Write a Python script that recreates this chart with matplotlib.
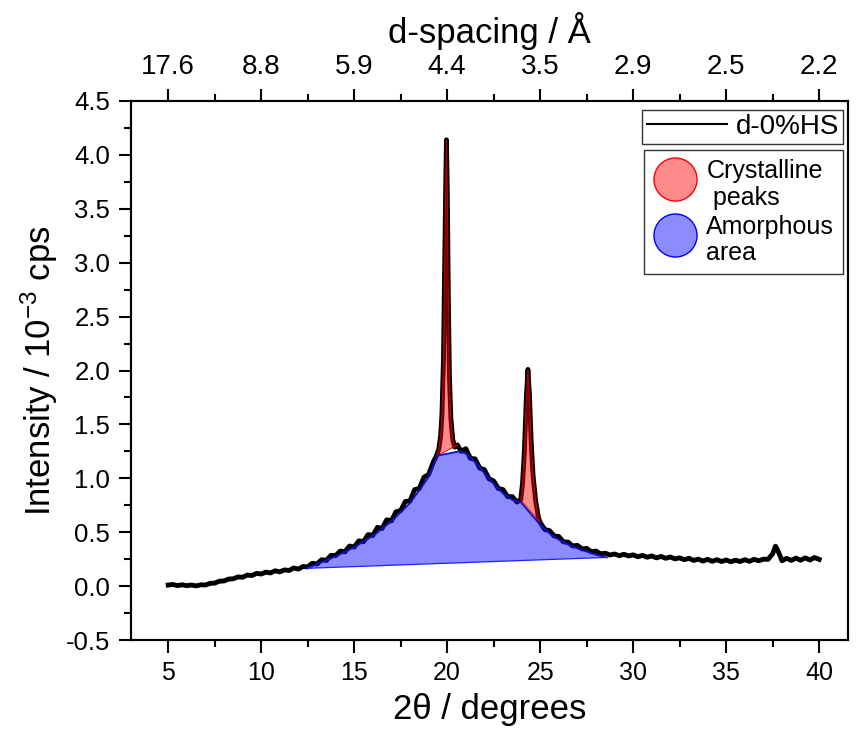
import matplotlib
matplotlib.use("Agg")
import matplotlib.pyplot as plt
from matplotlib.lines import Line2D
import numpy as np

plt.rcParams['font.family'] = ['Liberation Sans', 'DejaVu Sans']
plt.rcParams['mathtext.fontset'] = 'custom'
plt.rcParams['mathtext.rm'] = 'Liberation Sans'
plt.rcParams['mathtext.it'] = 'Liberation Sans:italic'

# ---------------- data ----------------
two_theta = [
    5.00, 5.25, 5.50, 5.75, 6.00, 6.25, 6.50, 6.75, 7.00, 7.25, 7.50, 7.75,
    8.00, 8.25, 8.50, 8.75, 9.00, 9.25, 9.50, 9.75, 10.00, 10.25, 10.50, 10.75,
    11.00, 11.25, 11.50, 11.75, 12.00, 12.25, 12.50, 12.75, 13.00, 13.25, 13.50,
    13.75, 14.00, 14.25, 14.50, 14.75, 15.00, 15.25, 15.50, 15.75, 16.00, 16.25,
    16.50, 16.75, 17.00, 17.25, 17.50, 17.75, 18.00, 18.25, 18.50, 18.75, 19.00,
    19.25, 19.40, 19.55, 19.65, 19.72, 19.80, 19.86, 19.92, 19.96, 20.01, 20.06,
    20.12, 20.20, 20.30, 20.40, 20.55, 20.75, 21.00, 21.25, 21.50, 21.75, 22.00,
    22.25, 22.50, 22.75, 23.00, 23.25, 23.50, 23.75, 23.95, 24.05, 24.15, 24.25,
    24.34, 24.42, 24.52, 24.62, 24.75, 24.90, 25.00, 25.25, 25.50, 25.75, 26.00,
    26.25, 26.50, 26.75, 27.00, 27.25, 27.50, 27.75, 28.00, 28.25, 28.50, 28.75,
    29.00, 29.25, 29.50, 29.75, 30.00, 30.25, 30.50, 30.75, 31.00, 31.25, 31.50,
    31.75, 32.00, 32.25, 32.50, 32.75, 33.00, 33.25, 33.50, 33.75, 34.00, 34.25,
    34.50, 34.75, 35.00, 35.25, 35.50, 35.75, 36.00, 36.25, 36.50, 36.75, 37.00,
    37.25, 37.50, 37.65, 37.75, 37.90, 38.00, 38.25, 38.50, 38.75, 39.00, 39.25,
    39.50, 39.75, 40.00]
intensity = [
    0.010, 0.015, 0.005, 0.012, 0.004, 0.010, 0.002, 0.012, 0.010, 0.025, 0.028, 0.045,
    0.048, 0.065, 0.068, 0.085, 0.082, 0.102, 0.098, 0.118, 0.112, 0.130, 0.122, 0.142,
    0.132, 0.150, 0.145, 0.168, 0.158, 0.182, 0.178, 0.212, 0.205, 0.245, 0.238,
    0.285, 0.282, 0.325, 0.318, 0.372, 0.362, 0.420, 0.412, 0.478, 0.470, 0.545,
    0.535, 0.615, 0.605, 0.690, 0.700, 0.785, 0.790, 0.895, 0.905, 1.010, 1.035,
    1.150, 1.200, 1.270, 1.400, 1.600, 2.100, 2.900, 3.700, 4.140, 3.600, 2.700,
    1.950, 1.550, 1.360, 1.290, 1.310, 1.250, 1.275, 1.185, 1.180, 1.095, 1.080,
    0.995, 0.975, 0.905, 0.895, 0.830, 0.830, 0.780, 0.800, 0.950, 1.250, 1.720,
    2.010, 1.780, 1.320, 1.020, 0.800, 0.640, 0.590, 0.525, 0.515, 0.465, 0.460,
    0.410, 0.408, 0.372, 0.378, 0.345, 0.350, 0.318, 0.325, 0.300, 0.305, 0.288,
    0.298, 0.282, 0.295, 0.280, 0.290, 0.272, 0.285, 0.268, 0.280, 0.262, 0.275,
    0.258, 0.270, 0.252, 0.262, 0.245, 0.258, 0.238, 0.250, 0.232, 0.248, 0.230,
    0.245, 0.228, 0.242, 0.226, 0.240, 0.228, 0.245, 0.230, 0.248, 0.235, 0.250,
    0.248, 0.300, 0.370, 0.340, 0.280, 0.235, 0.258, 0.238, 0.260, 0.240, 0.262,
    0.242, 0.265, 0.248]

# amorphous halo (upper edge of blue area)
amorph_x = [12.46, 13.0, 14.0, 15.0, 16.0, 17.0, 18.0, 19.0, 19.47, 20.66, 21.0,
            21.5, 22.0, 22.5, 23.0, 23.5, 23.95, 25.0, 25.5, 26.0, 26.5, 27.0,
            27.5, 28.0, 28.58]
amorph_y = [0.165, 0.205, 0.275, 0.36, 0.465, 0.60, 0.77, 1.01, 1.21, 1.25, 1.23,
            1.15, 1.05, 0.95, 0.86, 0.80, 0.78, 0.57, 0.49, 0.43, 0.385, 0.35,
            0.32, 0.29, 0.266]
# straight background line under the amorphous area
baseline_x = [12.46, 28.58]
baseline_y = [0.165, 0.266]

# crystalline peak ranges (2theta limits)
peak_ranges = [(19.40, 20.55), (23.95, 25.00)]

x_ticks = [5, 10, 15, 20, 25, 30, 35, 40]
d_labels = ['17.6', '8.8', '5.9', '4.4', '3.5', '2.9', '2.5', '2.2']
y_ticks = [-0.5, 0.0, 0.5, 1.0, 1.5, 2.0, 2.5, 3.0, 3.5, 4.0, 4.5]

# ---------------- figure ----------------
W, H = 858, 733
fig = plt.figure(figsize=(W / 100, H / 100), dpi=100)
ax = fig.add_axes([131 / W, 93 / H, 717 / W, 539 / H])

tt = np.array(two_theta)
inten = np.array(intensity)

ax.plot(tt, inten, color='black', lw=3.5, zorder=2)

# amorphous area (polygon: halo curve + straight baseline back)
poly_x = amorph_x + baseline_x[::-1]
poly_y = amorph_y + baseline_y[::-1]
ax.fill(poly_x, poly_y, facecolor=(0.0, 0.0, 1.0, 0.45), edgecolor='none', zorder=3)
ax.plot(amorph_x, amorph_y, color='#1010c8', lw=1.3, zorder=4)
ax.plot(baseline_x, baseline_y, color='#2020ff', lw=0.9, zorder=4)

# crystalline peaks
for lo, hi in peak_ranges:
    m = (tt >= lo - 1e-9) & (tt <= hi + 1e-9)
    ax.fill(tt[m], inten[m], facecolor=(1.0, 0.0, 0.0, 0.45),
            edgecolor=(0.85, 0.0, 0.0, 0.8), lw=0.8, zorder=3)

ax.set_xlim(3.0, 41.55)
ax.set_ylim(-0.5, 4.5)

ax.set_xticks(x_ticks)
ax.set_xticks(np.arange(7.5, 41, 5), minor=True)
ax.set_yticks(y_ticks)
ax.set_yticks(np.arange(-0.25, 4.5, 0.5), minor=True)
ax.set_yticklabels([f'{v:.1f}' for v in y_ticks])
ax.tick_params(axis='both', which='major', direction='out', length=9, width=1.5,
               labelsize=18, pad=6)
ax.tick_params(axis='both', which='minor', direction='out', length=5, width=1.5)
ax.tick_params(axis='y', labelsize=18.5)
for s in ax.spines.values():
    s.set_linewidth(1.5)

ax.set_xlabel('2θ / degrees', fontsize=25, labelpad=6)
ax.set_ylabel('Intensity / 10$^{-3}$ cps', fontsize=25, labelpad=4)

# top axis with d-spacing
top = ax.twiny()
top.set_xlim(ax.get_xlim())
top.set_xticks(x_ticks)
top.set_xticks(np.arange(7.5, 41, 5), minor=True)
top.set_xticklabels(d_labels, fontsize=20)
top.tick_params(axis='x', which='major', direction='out', length=9, width=1.5, pad=6)
top.tick_params(axis='x', which='minor', direction='out', length=5, width=1.5)
for s in top.spines.values():
    s.set_linewidth(1.5)
top.set_xlabel('d-spacing / Å', fontsize=25, labelpad=8)

# legends
h1 = [Line2D([], [], color='black', lw=1.5)]
leg1 = top.legend(h1, ['d-0%HS'], loc='upper right',
                  bbox_to_anchor=(843 / W, 1 - 110 / H), bbox_transform=fig.transFigure,
                  borderaxespad=0, fancybox=False, edgecolor='#333333', framealpha=1,
                  fontsize=20, handlelength=2.9, handletextpad=0.3, borderpad=0.15)
leg1.get_frame().set_linewidth(1.0)
top.add_artist(leg1)

h2 = [Line2D([], [], ls='none', marker='o', markersize=31,
             markerfacecolor=(1.0, 0.55, 0.55), markeredgecolor='red', markeredgewidth=1.0),
      Line2D([], [], ls='none', marker='o', markersize=31,
             markerfacecolor=(0.55, 0.55, 1.0), markeredgecolor='blue', markeredgewidth=1.0)]
leg2 = top.legend(h2, ['Crystalline\n peaks', 'Amorphous\narea'], loc='upper right',
                  bbox_to_anchor=(843 / W, 1 - 150 / H), bbox_transform=fig.transFigure,
                  borderaxespad=0, fancybox=False, edgecolor='#333333', framealpha=1,
                  fontsize=18, handlelength=1.8, handletextpad=0.35, borderpad=0.35,
                  labelspacing=0.2, handleheight=2.2)
leg2.get_frame().set_linewidth(1.0)
for t in leg2.get_texts():
    t.set_linespacing(1.15)

fig.savefig('out.png', dpi=100)
